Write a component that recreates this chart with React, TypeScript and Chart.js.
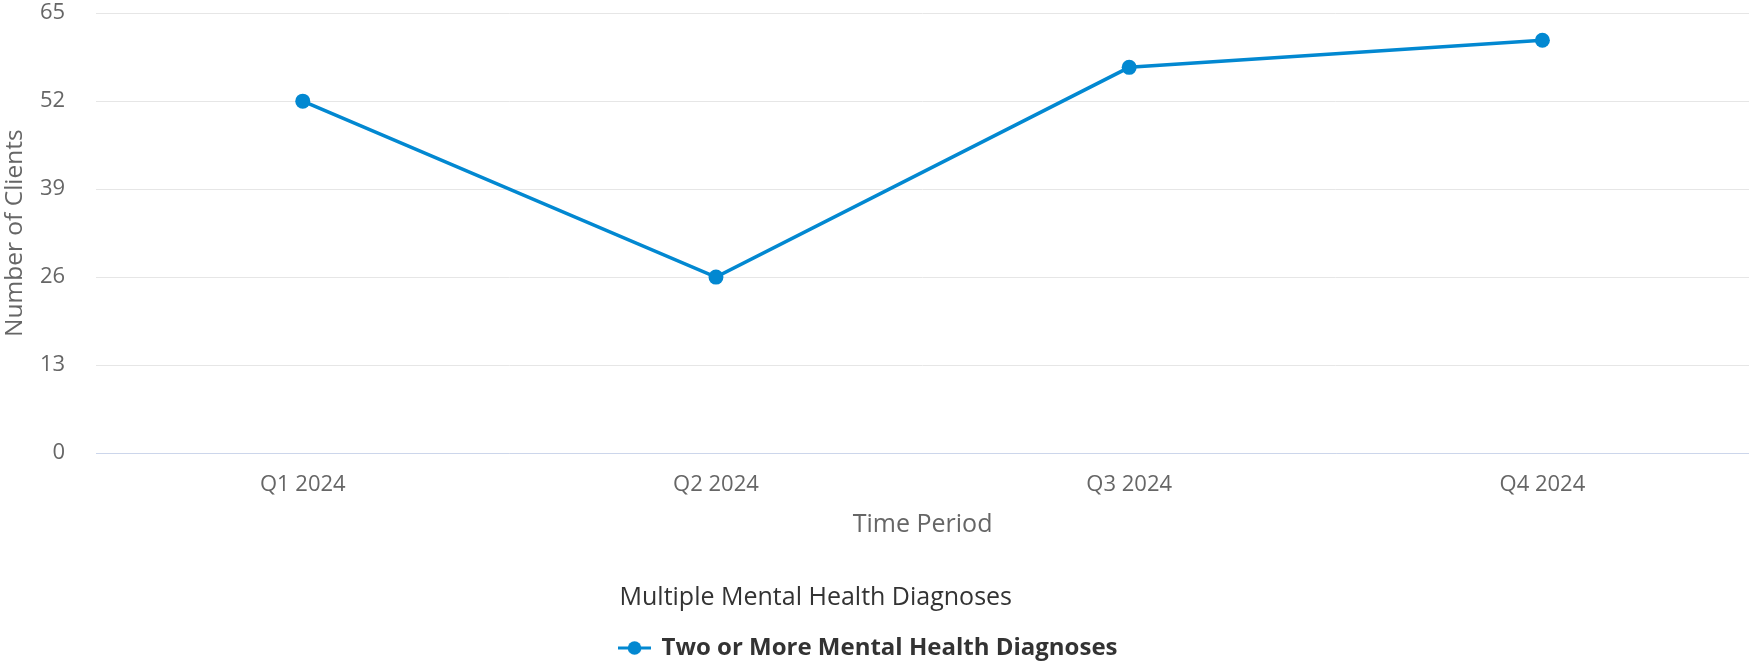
import React, { useEffect, useRef } from "react";
import { Chart, registerables } from "chart.js";

Chart.register(...registerables);

const categories: string[] = ["Q1 2024", "Q2 2024", "Q3 2024", "Q4 2024"];
const seriesName = "Two or More Mental Health Diagnoses";
const seriesValues: number[] = [52, 26, 57, 61];
const yTickValues: number[] = [0, 13, 26, 39, 52, 65];
const legendTitle = "Multiple Mental Health Diagnoses";
const xAxisTitle = "Time Period";
const yAxisTitle = "Number of Clients";

const FONT = "'Open Sans', 'DejaVu Sans', sans-serif";
const BLUE = "#0288d1";
const CLEAR = "rgba(0,0,0,0)";

function makeLegendIcon(): HTMLCanvasElement {
  const c = document.createElement("canvas");
  c.width = 33;
  c.height = 16;
  const ctx = c.getContext("2d")!;
  ctx.strokeStyle = BLUE;
  ctx.lineWidth = 3;
  ctx.beginPath();
  ctx.moveTo(0, 8);
  ctx.lineTo(33, 8);
  ctx.stroke();
  ctx.fillStyle = BLUE;
  ctx.beginPath();
  ctx.arc(16.5, 8, 6.8, 0, Math.PI * 2);
  ctx.fill();
  return c;
}

const legendShift = {
  id: "legendShift",
  afterLayout(chart: any) {
    const l = chart.legend;
    if (l) {
      l.left -= 6;
      l.right -= 6;
    }
  },
};

export default function App() {
  const canvasRef = useRef<HTMLCanvasElement | null>(null);

  useEffect(() => {
    if (!canvasRef.current) return;
    const icon = makeLegendIcon();
    const chart = new Chart(canvasRef.current, {
      type: "line",
      data: {
        labels: categories,
        datasets: [
          {
            label: seriesName,
            data: seriesValues,
            borderColor: BLUE,
            backgroundColor: BLUE,
            borderWidth: 3.5,
            pointRadius: 7.5,
            pointHoverRadius: 7.5,
            pointBackgroundColor: BLUE,
            pointBorderWidth: 0,
            tension: 0,
            fill: false,
            clip: false as any,
          },
        ],
      },
      plugins: [legendShift],
      options: {
        animation: false,
        responsive: true,
        maintainAspectRatio: false,
        layout: { autoPadding: false, padding: { top: 1.5, left: 0, right: 0, bottom: -6 } },
        plugins: {
          tooltip: { enabled: false },
          legend: {
            display: true,
            position: "bottom",
            align: "center",
            title: {
              display: true,
              text: legendTitle,
              position: "start",
              color: "#333333",
              font: { family: FONT, size: 25 },
              padding: { top: 8, bottom: 20.5 },
            },
            labels: {
              usePointStyle: true,
              pointStyle: icon as any,
              pointStyleWidth: 30,
              boxHeight: 16,
              padding: 0,
              color: "#333333",
              font: { family: FONT, size: 24, weight: "bold" },
            },
          },
        },
        scales: {
          x: {
            type: "category",
            offset: true,
            afterFit: (scale: any) => {
              scale.paddingLeft = 0;
              scale.paddingRight = 0;
            },
            grid: {
              display: true,
              drawOnChartArea: false,
              drawTicks: true,
              tickLength: 19,
              tickColor: CLEAR,
              color: CLEAR,
            },
            border: { display: true, color: "#ccd6eb", width: 1 },
            ticks: {
              color: "#666666",
              font: { family: FONT, size: 22 },
              padding: 0,
              maxRotation: 0,
            },
            title: {
              display: true,
              text: xAxisTitle,
              color: "#666666",
              font: { family: FONT, size: 25 },
              padding: { top: 11.6, bottom: 37.5 },
            },
          },
          y: {
            min: 0,
            max: 65,
            afterBuildTicks: (scale: any) => {
              scale.ticks = yTickValues.map((v) => ({ value: v }));
            },
            grid: {
              color: "#e6e6e6",
              lineWidth: 1,
              drawTicks: true,
              tickLength: 31,
              tickColor: CLEAR,
            },
            border: { display: false },
            ticks: {
              color: "#666666",
              font: { family: FONT, size: 22 },
              padding: 0,
            },
            title: {
              display: true,
              text: yAxisTitle,
              color: "#666666",
              font: { family: FONT, size: 24.5 },
              padding: { top: 0, bottom: 10.6 },
            },
          },
        },
      },
    });
    return () => chart.destroy();
  }, []);

  return (
    <div
      style={{
        position: "absolute",
        left: 0,
        top: 0,
        width: 1749,
        height: 664,
        overflow: "hidden",
        background: "#ffffff",
      }}
    >
      <canvas ref={canvasRef} style={{ display: "block" }} />
    </div>
  );
}
